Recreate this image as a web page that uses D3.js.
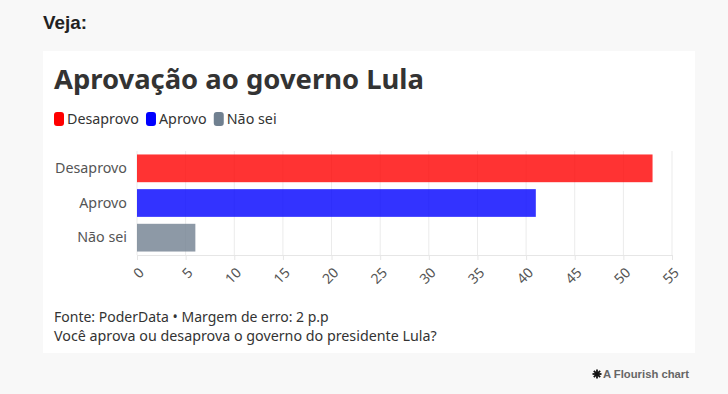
<!DOCTYPE html>
<html>
<head>
<meta charset="utf-8">
<script src="https://cdn.jsdelivr.net/npm/d3@7"></script>
<style>
  body { margin: 0; background: #f8f8f8; }
  svg { display: block; }
</style>
</head>
<body>
<div id="chart"></div>
<script>
// data
var categories = ["Desaprovo", "Aprovo", "Não sei"];
var values = [53, 41, 6];
var colors = ["#ff0000", "#0000ff", "#708090"];
var ticks = [0, 5, 10, 15, 20, 25, 30, 35, 40, 45, 50, 55];

var W = 728, H = 394;
var font = "'Noto Sans', sans-serif";

var svg = d3.select("#chart").append("svg")
    .attr("width", W)
    .attr("height", H);

svg.append("rect").attr("width", W).attr("height", H).attr("fill", "#f8f8f8");

// shrink/grow a text so it takes the width seen in the reference
function fit(sel, target) {
  var fs = +sel.attr("font-size");
  var w = sel.node().getComputedTextLength();
  sel.attr("font-size", (fs * target / w).toFixed(2));
  return sel;
}

fit(svg.append("text")
    .attr("x", 43).attr("y", 29)
    .attr("font-family", "'Liberation Sans', Arial, sans-serif").attr("font-weight", 700)
    .attr("font-size", 18).attr("fill", "#222")
    .text("Veja:"), 44);

// white card
svg.append("rect")
    .attr("x", 43).attr("y", 51)
    .attr("width", 652).attr("height", 302)
    .attr("fill", "#fff");

fit(svg.append("text")
    .attr("x", 54).attr("y", 89)
    .attr("font-family", font).attr("font-weight", 700)
    .attr("font-size", 28).attr("fill", "#333")
    .text("Aprovação ao governo Lula"), 370);

// base label size from "Desaprovo" width
var probe = svg.append("text").attr("font-family", font).attr("font-size", 14).text("Desaprovo");
var labelSize = +(14 * 72 / probe.node().getComputedTextLength()).toFixed(2);
probe.remove();

// legend
var lx = 54;
var legend = svg.append("g").attr("font-family", font).attr("font-size", labelSize);
categories.forEach(function(c, i) {
  legend.append("rect")
      .attr("x", lx).attr("y", 112)
      .attr("width", 10).attr("height", 14)
      .attr("rx", 3)
      .attr("fill", colors[i]);
  var t = legend.append("text")
      .attr("x", lx + 13).attr("y", 124)
      .attr("fill", "#333")
      .text(c);
  lx += 13 + t.node().getComputedTextLength() + 7;
});

var x = d3.scaleLinear().domain([0, 55]).range([137, 672]);
var y = d3.scaleBand().domain(categories).range([151, 255])
    .paddingInner(0.2).paddingOuter(0.1);

// grid
svg.append("g").selectAll("line")
    .data(ticks)
  .enter().append("line")
    .attr("x1", function(d) { return x(d); })
    .attr("x2", function(d) { return x(d); })
    .attr("y1", 151).attr("y2", 255)
    .attr("stroke", "#ebebeb").attr("stroke-width", 1);

// bars
svg.append("g").selectAll("rect")
    .data(values)
  .enter().append("rect")
    .attr("x", x(0))
    .attr("y", function(d, i) { return y(categories[i]); })
    .attr("width", function(d) { return x(d) - x(0); })
    .attr("height", y.bandwidth())
    .attr("fill", function(d, i) { return colors[i]; })
    .attr("fill-opacity", 0.8);

// x axis
var xAxis = d3.axisBottom(x).tickValues(ticks).tickSize(5).tickPadding(0);
var gx = svg.append("g")
    .attr("transform", "translate(0,255)")
    .call(xAxis);
gx.select(".domain").attr("stroke", "#e6e6e6");
gx.selectAll(".tick line").attr("stroke", "#e6e6e6");
gx.selectAll(".tick text")
    .attr("font-family", font).attr("font-size", 14)
    .attr("fill", "#555")
    .attr("text-anchor", "end")
    .attr("x", 0).attr("y", 0)
    .attr("dy", "0.35em")
    .attr("transform", "translate(4,15) rotate(-45)");

// y axis
var yAxis = d3.axisLeft(y).tickSize(0).tickPadding(10);
var gy = svg.append("g")
    .attr("transform", "translate(137,0)")
    .call(yAxis);
gy.select(".domain").remove();
gy.selectAll(".tick text")
    .attr("font-family", font).attr("font-size", labelSize)
    .attr("fill", "#555");

// footer
fit(svg.append("text")
    .attr("x", 54).attr("y", 322)
    .attr("font-family", font).attr("font-size", 14).attr("fill", "#333")
    .text("Fonte: PoderData • Margem de erro: 2 p.p"), 275);
fit(svg.append("text")
    .attr("x", 54).attr("y", 341)
    .attr("font-family", font).attr("font-size", 14).attr("fill", "#333")
    .text("Você aprova ou desaprova o governo do presidente Lula?"), 383);

// flourish credit
var star = svg.append("g").attr("transform", "translate(597,374)")
    .attr("stroke", "#111").attr("stroke-width", 1.8);
[0, 45, 90, 135].forEach(function(a) {
  star.append("line")
      .attr("x1", -4.5).attr("x2", 4.5).attr("y1", 0).attr("y2", 0)
      .attr("transform", "rotate(" + a + ")");
});
fit(svg.append("text")
    .attr("x", 603).attr("y", 378)
    .attr("font-family", "'Liberation Sans', Arial, sans-serif")
    .attr("font-size", 11).attr("font-weight", 700).attr("fill", "#666")
    .text("A Flourish chart"), 86);
</script>
</body>
</html>
